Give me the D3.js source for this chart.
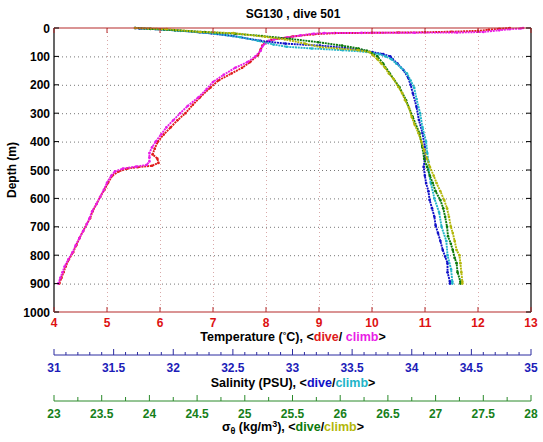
<!DOCTYPE html>
<html><head><meta charset="utf-8">
<script src="https://cdn.jsdelivr.net/npm/d3@7"></script>
<style>
body{margin:0;background:#fff;}
text{font-family:"Liberation Sans",Arial,Helvetica,sans-serif;font-weight:bold;}
</style></head>
<body><svg id="c" width="543" height="442"></svg>
<script>
// ---------- data ----------
const titleText = "SG130 , dive 501";
const depthTicks = [0,100,200,300,400,500,600,700,800,900,1000];
const tempTicks = [4,5,6,7,8,9,10,11,12,13];
const salTicks = [31,31.5,32,32.5,33,33.5,34,34.5,35];
const sigTicks = [23,23.5,24,24.5,25,25.5,26,26.5,27,27.5,28];

const depthTempDive = [0,3,6,10,13,15,16,17,18,22,30,42,52,62,75,95,120,140,160,185,210,245,270,300,325,350,375,400,425,445,460,475,485,490,495,505,520,545,570,595,620,645,670,690,715,740,765,790,815,840,860,880,900];
const tempDive = [12.6,12.4,12.2,12.0,11.5,11.0,10.5,10.0,9.3,8.9,8.5,8.1,7.98,7.93,7.9,7.85,7.7,7.55,7.35,7.1,6.95,6.75,6.62,6.48,6.33,6.2,6.07,5.96,5.9,5.86,5.95,5.97,5.85,5.58,5.38,5.22,5.1,5.02,4.95,4.87,4.8,4.73,4.68,4.62,4.55,4.48,4.42,4.36,4.28,4.22,4.18,4.14,4.1];

const depthTempClimb = [900,880,860,840,815,790,765,740,715,690,670,645,620,595,570,545,520,505,495,488,482,470,455,440,420,400,375,350,325,300,275,245,215,190,165,140,120,100,80,65,55,45,40,33,26,20,18,17,16.5,16,14,8,4,2,0];
const tempClimb = [4.08,4.12,4.16,4.2,4.27,4.35,4.41,4.48,4.55,4.62,4.67,4.72,4.8,4.87,4.94,5.0,5.08,5.15,5.3,5.55,5.75,5.8,5.8,5.8,5.85,5.92,6.02,6.12,6.25,6.38,6.52,6.72,6.88,7.0,7.2,7.42,7.65,7.8,7.9,7.93,7.98,8.05,8.15,8.4,8.65,8.9,9.1,9.8,10.8,11.6,12.1,12.4,12.6,12.8,12.85];

const depthSalDive = [0,2,6,15,28,45,55,62,70,78,85,92,100,110,125,148,175,200,231,278,324,370,418,460,489,520,546,575,606,635,665,695,722,750,782,805,828,860,893,900];
const salDive = [31.68,31.72,31.95,32.22,32.50,32.73,32.94,33.23,33.44,33.58,33.67,33.76,33.82,33.84,33.88,33.93,33.97,33.99,34.01,34.04,34.06,34.09,34.11,34.11,34.10,34.11,34.12,34.14,34.15,34.17,34.19,34.20,34.22,34.24,34.26,34.28,34.30,34.30,34.32,34.32];

const depthSalClimb = [900,893,850,800,750,700,650,600,546,500,470,440,400,350,300,250,210,185,160,140,125,110,100,92,84,78,72,66,58,45,32,20,10,3,0];
const salClimb = [34.34,34.34,34.33,34.30,34.29,34.25,34.23,34.19,34.16,34.14,34.14,34.13,34.12,34.09,34.07,34.04,34.02,33.99,33.96,33.91,33.87,33.83,33.78,33.73,33.62,33.42,33.16,32.95,32.84,32.71,32.56,32.35,32.06,31.81,31.68];

const depthSigDive = [0,3,8,14,20,28,38,50,62,72,80,88,100,125,160,208,254,313,370,418,460,489,520,546,575,606,635,665,700,733,760,782,810,828,860,893,900];
const sigDive = [23.85,24.01,24.27,24.58,24.90,25.18,25.47,25.77,26.02,26.19,26.28,26.33,26.39,26.45,26.52,26.62,26.69,26.76,26.83,26.86,26.88,26.91,26.94,26.97,27.00,27.05,27.08,27.10,27.12,27.13,27.16,27.18,27.20,27.22,27.23,27.26,27.26];

const depthSigClimb = [900,893,860,828,800,782,750,722,700,665,635,606,575,546,520,489,460,430,400,370,340,313,280,254,230,208,180,160,140,125,110,95,85,78,67,55,40,31,18,14,4,0];
const sigClimb = [27.28,27.28,27.27,27.26,27.25,27.22,27.20,27.18,27.16,27.14,27.12,27.09,27.05,27.01,26.98,26.94,26.91,26.88,26.85,26.82,26.78,26.75,26.72,26.68,26.65,26.61,26.56,26.51,26.47,26.43,26.39,26.34,26.31,26.19,25.79,25.63,25.42,25.21,24.88,24.53,24.18,23.85];

// ---------- layout ----------
const L=54, R=531, T=28, B=312;
const cRed="#e01b1b", cMag="#e91ee6", cBlue="#1010c8", cCyan="#22b4c8", cGreen="#0c7a0c", cYel="#b3b70a";
const cAxRed="#b52a2a", cAxBlue="#2b2ba0", cAxGreen="#2a8a2a";
const tickRed="#dd1111", tickBlue="#1c1cb8", tickGreen="#16801a";

const svg=d3.select("#c");
const y=d3.scaleLinear().domain([0,1000]).range([T,B]);
const xT=d3.scaleLinear().domain([4,13]).range([L,R]);
const xS=d3.scaleLinear().domain([31,35]).range([L,R]);
const xG=d3.scaleLinear().domain([23,28]).range([L,R]);

// grid
svg.append("g").selectAll("line").data(depthTicks.filter(d=>d>0&&d<1000)).join("line")
  .attr("x1",L).attr("x2",R).attr("y1",d=>y(d)+0.5).attr("y2",d=>y(d)+0.5)
  .attr("stroke","#777").attr("stroke-width",1).attr("stroke-dasharray","1,3");
svg.append("g").selectAll("line").data(tempTicks.filter(d=>d>4&&d<13)).join("line")
  .attr("x1",d=>xT(d)+0.5).attr("x2",d=>xT(d)+0.5).attr("y1",T).attr("y2",B)
  .attr("stroke","#d9a9a9").attr("stroke-width",1).attr("stroke-dasharray","1,3");

// series
function series(depths, vals, sx, color){
  const pts = depths.map((d,i)=>[sx(vals[i]), y(d)]);
  const g=svg.append("g");
  g.append("path").attr("d",d3.line()(pts)).attr("fill","none")
    .attr("stroke",color).attr("stroke-width",1.9).attr("stroke-dasharray","2,0.8");
  g.selectAll("circle").data(pts).join("circle")
    .attr("cx",p=>p[0]).attr("cy",p=>p[1]).attr("r",1.3).attr("fill",color);
}
series(depthTempDive,tempDive,xT,cRed);
series(depthTempClimb,tempClimb,xT,cMag);
series(depthSalDive,salDive,xS,cBlue);
series(depthSalClimb,salClimb,xS,cCyan);
series(depthSigDive,sigDive,xG,cGreen);
series(depthSigClimb,sigClimb,xG,cYel);

// frame
const lw=1.2;
svg.append("line").attr("x1",L).attr("x2",L).attr("y1",T).attr("y2",B).attr("stroke","#000").attr("stroke-width",lw);
svg.append("line").attr("x1",R).attr("x2",R).attr("y1",T).attr("y2",B).attr("stroke","#000").attr("stroke-width",lw);
svg.append("line").attr("x1",L).attr("x2",R).attr("y1",T).attr("y2",T).attr("stroke",cAxRed).attr("stroke-width",lw);
svg.append("line").attr("x1",L).attr("x2",R).attr("y1",B).attr("y2",B).attr("stroke",cAxRed).attr("stroke-width",lw);

// depth ticks inward left/right
svg.append("g").selectAll("line").data(depthTicks).join("line")
  .attr("x1",L).attr("x2",L+5).attr("y1",d=>y(d)).attr("y2",d=>y(d)).attr("stroke","#000");
svg.append("g").selectAll("line").data(depthTicks).join("line")
  .attr("x1",R-5).attr("x2",R).attr("y1",d=>y(d)).attr("y2",d=>y(d)).attr("stroke","#000");
svg.append("g").selectAll("text").data(depthTicks).join("text")
  .attr("x",L-4).attr("y",d=>y(d)+4.5).attr("text-anchor","end").attr("font-size",12).attr("fill","#000").text(d=>d);

// temperature ticks top & bottom
svg.append("g").selectAll("line").data(tempTicks).join("line")
  .attr("x1",d=>xT(d)).attr("x2",d=>xT(d)).attr("y1",T).attr("y2",T+5).attr("stroke",cAxRed);
svg.append("g").selectAll("line").data(tempTicks).join("line")
  .attr("x1",d=>xT(d)).attr("x2",d=>xT(d)).attr("y1",B-5).attr("y2",B).attr("stroke",cAxRed);
svg.append("g").selectAll("text").data(tempTicks).join("text")
  .attr("x",d=>xT(d)).attr("y",B+15).attr("text-anchor","middle").attr("font-size",12).attr("fill",tickRed).text(d=>d);

// salinity axis
const yS=355;
svg.append("line").attr("x1",L).attr("x2",R).attr("y1",yS).attr("y2",yS).attr("stroke",cAxBlue).attr("stroke-width",1);
const salMinor=d3.range(310,351,1).map(v=>v/10);
svg.append("g").selectAll("line").data(salMinor).join("line")
  .attr("x1",d=>xS(d)).attr("x2",d=>xS(d)).attr("y1",yS).attr("y2",d=>Math.abs(d*2-Math.round(d*2))<1e-6?yS-6:yS-3).attr("stroke",cAxBlue);
svg.append("g").selectAll("text").data(salTicks).join("text")
  .attr("x",d=>xS(d)).attr("y",yS+17).attr("text-anchor","middle").attr("font-size",12).attr("fill",tickBlue).text(d=>d);

// sigma axis
const yG=401;
svg.append("line").attr("x1",L).attr("x2",R).attr("y1",yG).attr("y2",yG).attr("stroke",cAxGreen).attr("stroke-width",1);
const sigMinor=d3.range(0,21,1).map(i=>23+i*0.25);
svg.append("g").selectAll("line").data(sigMinor).join("line")
  .attr("x1",d=>xG(d)).attr("x2",d=>xG(d)).attr("y1",yG).attr("y2",d=>Math.abs(d*2-Math.round(d*2))<1e-6?yG-6:yG-4).attr("stroke",cAxGreen);
svg.append("g").selectAll("text").data(sigTicks).join("text")
  .attr("x",d=>xG(d)).attr("y",yG+17).attr("text-anchor","middle").attr("font-size",12).attr("fill",tickGreen).text(d=>d);

// titles
const cx=293;
svg.append("text").attr("x",cx).attr("y",18).attr("text-anchor","middle").attr("font-size",12).attr("fill","#000").text(titleText);
svg.append("text").attr("transform",`translate(16,${(T+B)/2}) rotate(-90)`).attr("text-anchor","middle").attr("font-size",12).attr("fill","#000").text("Depth (m)");

function rich(yy, parts){
  const t=svg.append("text").attr("x",cx).attr("y",yy).attr("text-anchor","middle").attr("font-size",12.5).attr("fill","#000");
  parts.forEach(p=>{
    const s=t.append("tspan").text(p.t);
    if(p.c) s.attr("fill",p.c);
    if(p.dy) s.attr("dy",p.dy);
    if(p.fs) s.attr("font-size",p.fs);
  });
  return t;
}
rich(341,[{t:"Temperature ("},{t:"°",fs:9,dy:-3},{t:"C), <",dy:3},{t:"dive",c:cRed},{t:"/ "},{t:"climb",c:cMag},{t:">"}]);
rich(387,[{t:"Salinity (PSU), <"},{t:"dive",c:cBlue},{t:"/"},{t:"climb",c:cCyan},{t:">"}]);
rich(431,[{t:"σ"},{t:"θ",fs:9,dy:3},{t:" (kg/m",dy:-3},{t:"3",fs:9,dy:-4},{t:"), <",dy:4},{t:"dive",c:cGreen},{t:"/"},{t:"climb",c:cYel},{t:">"}]);
</script></body></html>
